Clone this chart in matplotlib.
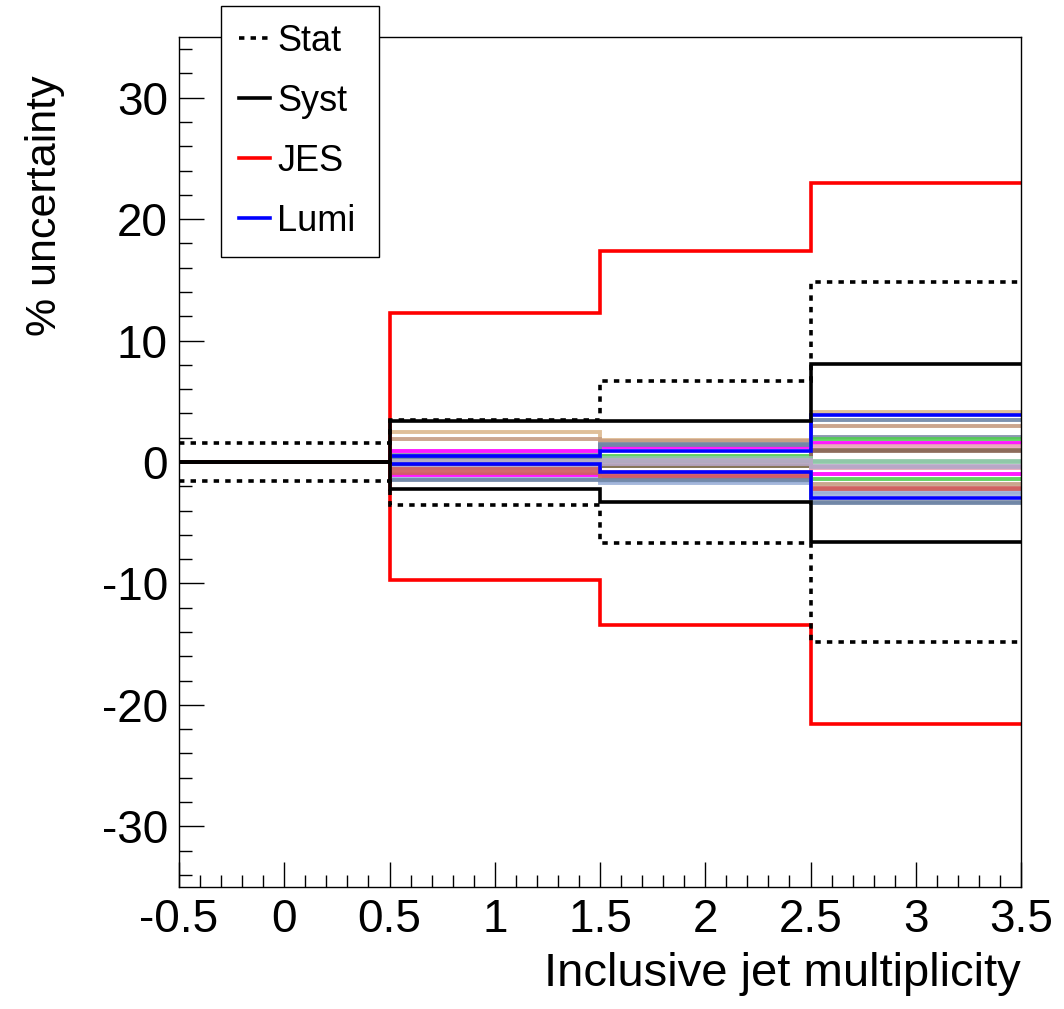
import matplotlib

matplotlib.use("Agg")
import matplotlib.pyplot as plt
from matplotlib.lines import Line2D
from matplotlib.ticker import MultipleLocator

plt.rcParams["font.family"] = ["Liberation Sans", "DejaVu Sans"]
plt.rcParams["axes.unicode_minus"] = False

# bin edges of the inclusive jet multiplicity histogram
edges = [-0.5, 0.5, 1.5, 2.5, 3.5]

# main uncertainties in %, per bin (up / down)
stat_up = [1.6, 3.5, 6.7, 14.8]
stat_dn = [-1.6, -3.5, -6.7, -14.8]
syst_up = [0.0, 3.4, 3.4, 8.1]
syst_dn = [0.0, -2.2, -3.3, -6.6]
jes_up = [0.0, 12.3, 17.4, 23.0]
jes_dn = [0.0, -9.7, -13.4, -21.6]
lumi_up = [0.0, 0.5, 0.9, 3.9]
lumi_dn = [0.0, -0.2, -0.8, -3.0]

# smaller systematic sources (not in the legend)
extra_colors = ["#dcb88e", "#c69c82", "#ff00ff", "#7f8ea6", "#52cc52",
                "#9bb0d8", "#e8a0b8", "#8c6a5a", "#8fc8a8", "#b8a8c8",
                "#d06060", "#6f86a6"]
extra_up = [
    [0.0, 2.5, 1.8, 4.1],
    [0.0, 1.9, 1.7, 3.0],
    [0.0, 0.9, 1.2, 1.6],
    [0.0, 0.6, 1.5, 2.1],
    [0.0, 0.1, 0.5, 1.9],
    [0.0, -0.4, -1.7, -2.6],
    [0.0, -0.7, -0.9, 1.3],
    [0.0, 0.3, 0.1, 1.0],
    [0.0, 0.2, 0.1, 0.0],
    [0.0, -0.5, -0.2, -0.3],
    [0.0, -0.6, -1.0, -2.2],
    [0.0, 0.4, 1.4, 3.5],
]
extra_dn = [
    [0.0, -0.3, -0.2, -0.4],
    [0.0, -0.8, -1.2, -1.8],
    [0.0, -1.1, -1.1, -1.0],
    [0.0, -0.4, -1.4, -3.3],
    [0.0, 0.1, -0.3, -1.4],
    [0.0, -1.4, -1.6, -2.5],
    [0.0, -0.6, -0.8, -0.5],
    [0.0, -0.2, -0.3, 0.9],
    [0.0, -0.1, 0.3, 0.1],
    [0.0, 0.1, 0.2, -0.4],
    [0.0, -0.9, -1.2, -2.1],
    [0.0, -1.5, -1.5, -3.4],
]

dotted = (0, (1.5, 1.7))
lw = 2.6

fig = plt.figure(figsize=(10.64, 10.09), dpi=100)
ax = fig.add_axes([179 / 1064, 1 - 887 / 1009, 842 / 1064, 850 / 1009])

for col, up, dn in zip(extra_colors, extra_up, extra_dn):
    ax.stairs(up, edges, baseline=None, color=col, lw=2.8, alpha=0.9)
    ax.stairs(dn, edges, baseline=None, color=col, lw=2.8, alpha=0.9)

ax.stairs(lumi_up, edges, baseline=None, color="#0000ff", lw=lw)
ax.stairs(lumi_dn, edges, baseline=None, color="#0000ff", lw=lw)
ax.stairs(jes_up, edges, baseline=None, color="#ff0000", lw=lw)
ax.stairs(jes_dn, edges, baseline=None, color="#ff0000", lw=lw)
ax.stairs(syst_up, edges, baseline=None, color="black", lw=lw)
ax.stairs(syst_dn, edges, baseline=None, color="black", lw=lw)
ax.stairs(stat_up, edges, baseline=None, color="black", lw=lw, ls=dotted)
ax.stairs(stat_dn, edges, baseline=None, color="black", lw=lw, ls=dotted)

ax.set_xlim(-0.5, 3.5)
ax.set_ylim(-35, 35)
ax.xaxis.set_major_locator(MultipleLocator(0.5))
ax.xaxis.set_minor_locator(MultipleLocator(0.1))
ax.yaxis.set_major_locator(MultipleLocator(10))
ax.yaxis.set_minor_locator(MultipleLocator(2))
ax.xaxis.set_major_formatter(plt.FuncFormatter(lambda v, p: f"{v:g}"))
ax.tick_params(which="both", direction="in", top=False, right=False,
               labelsize=33, width=1, pad=8)
ax.tick_params(which="major", length=18)
ax.tick_params(which="minor", length=9)
for sp in ax.spines.values():
    sp.set_linewidth(1)

ax.set_xlabel("Inclusive jet multiplicity", fontsize=34, ha="right", va="top")
ax.xaxis.set_label_coords(1.0, -0.076)
ax.set_ylabel("% uncertainty", fontsize=31, ha="right", va="bottom")
ax.yaxis.set_label_coords(-0.135, 0.955)

handles = [
    Line2D([], [], color="black", lw=lw, ls=dotted),
    Line2D([], [], color="black", lw=lw),
    Line2D([], [], color="#ff0000", lw=lw),
    Line2D([], [], color="#0000ff", lw=lw),
]
leg = fig.legend(handles, ["Stat", "Syst", "JES", "Lumi"],
                 loc="upper left", mode="expand",
                 bbox_to_anchor=(221 / 1064, 1 - 252 / 1009, 158 / 1064, 246 / 1009),
                 fontsize=26, handlelength=0.85, handletextpad=0.2,
                 labelspacing=0.69, borderpad=0.5, borderaxespad=0,
                 fancybox=False, edgecolor="black", framealpha=1)
leg.get_frame().set_linewidth(1)

fig.savefig("out.png", dpi=100)
